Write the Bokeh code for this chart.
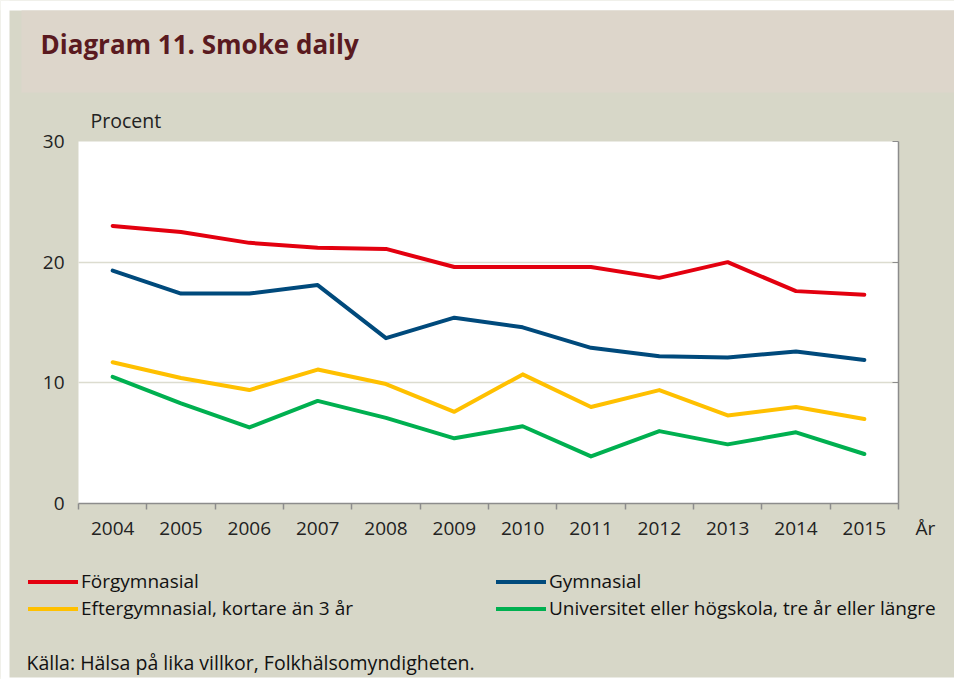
from bokeh.plotting import figure
from bokeh.models import Label, FixedTicker, LinearAxis, Range1d, BoxAnnotation, Legend, LegendItem
from bokeh.embed import file_html
from bokeh.resources import INLINE

years = [2004, 2005, 2006, 2007, 2008, 2009, 2010, 2011, 2012, 2013, 2014, 2015]
forgymnasial = [23.0, 22.5, 21.6, 21.2, 21.1, 19.6, 19.6, 19.6, 18.7, 20.0, 17.6, 17.3]
gymnasial = [19.3, 17.4, 17.4, 18.1, 13.7, 15.4, 14.6, 12.9, 12.2, 12.1, 12.6, 11.9]
eftergymnasial = [11.7, 10.4, 9.4, 11.1, 9.9, 7.6, 10.7, 8.0, 9.4, 7.3, 8.0, 7.0]
universitet = [10.5, 8.3, 6.3, 8.5, 7.1, 5.4, 6.4, 3.9, 6.0, 4.9, 5.9, 4.1]
series_names = ["Förgymnasial", "Gymnasial", "Eftergymnasial, kortare än 3 år",
                "Universitet eller högskola, tre år eller längre"]
series_values = [forgymnasial, gymnasial, eftergymnasial, universitet]
series_colors = ["#e3000f", "#004a7c", "#ffc000", "#00b050"]
y_ticks = [0, 10, 20, 30]
grid_ticks = [10, 20]
y_min, y_max = 0, 30
title_text = "Diagram 11. Smoke daily"
y_unit = "Procent"
x_unit = "År"
source_text = "Källa: Hälsa på lika villkor, Folkhälsomyndigheten."

# ---- layout (canvas pixels) ----
W, H = 954, 679
FL, FT, FR, FB = 78, 141, 898, 503   # plot-area box on the canvas
FONT = "Open Sans"
BG = "#d7d7c8"
TXT = "#222222"
GRID = "#dcdccf"

x_lo, x_hi = years[0] - 0.5, years[-1] + 0.5
kx = (FR - FL) / (x_hi - x_lo)
ky = (FB - FT) / (y_max - y_min)
xr = Range1d(x_lo - FL / kx, x_hi + (W - FR) / kx)
yr = Range1d(y_min - (H - FB) / ky, y_max + FT / ky)

p = figure(width=W, height=H, x_range=xr, y_range=yr,
           output_backend="svg", toolbar_location=None,
           min_border=0, min_border_left=0, min_border_right=0,
           min_border_top=0, min_border_bottom=0)
p.background_fill_color = BG
p.border_fill_color = BG
p.outline_line_color = None


def sx(cx):
    return cx


def sy(cy):
    return H - cy


def screen_box(l, t, r, b, color):
    return BoxAnnotation(left=sx(l), right=sx(r), top=sy(t), bottom=sy(b),
                         left_units="screen", right_units="screen",
                         top_units="screen", bottom_units="screen",
                         fill_color=color, fill_alpha=1, line_color=None, level="image")


# white plot area
p.add_layout(BoxAnnotation(left=x_lo, right=x_hi, bottom=y_min, top=y_max,
                           fill_color="white", fill_alpha=1, line_color=None, level="image"))
# white page margins and title band
p.add_layout(screen_box(0, 0, W, 10, "white"))
p.add_layout(screen_box(0, 0, 9, H, "white"))
p.add_layout(screen_box(0, 677, W, H, "white"))
p.add_layout(screen_box(21, 10, W, 92, "#ddd6cb"))

# y axis (left)
ya = p.yaxis[0]
ya.fixed_location = x_lo
ya.bounds = (y_min, y_max)
ya.ticker = FixedTicker(ticks=y_ticks)
ya.axis_line_color = None
ya.major_tick_line_color = None
ya.minor_tick_line_color = None
ya.major_tick_out = 0
ya.major_tick_in = 0
ya.major_label_standoff = 14
ya.major_label_text_font = FONT
ya.major_label_text_font_size = "19px"
ya.major_label_text_color = TXT

# x axis
xa = p.xaxis[0]
xa.fixed_location = y_min
xa.bounds = (x_lo, x_hi)
xa.ticker = FixedTicker(ticks=years, minor_ticks=[y - 0.5 for y in years] + [years[-1] + 0.5])
xa.major_label_overrides = {y: str(y) for y in years}
xa.major_tick_line_color = None
xa.major_tick_out = 0
xa.major_tick_in = 0
xa.minor_tick_line_color = "#8c8c8c"
xa.minor_tick_out = 6
xa.minor_tick_in = 0
xa.minor_tick_line_width = 1.5
xa.axis_line_color = "#8c8c8c"
xa.axis_line_width = 1.5
xa.major_label_standoff = 12
xa.major_label_text_font = FONT
xa.major_label_text_font_size = "19px"
xa.major_label_text_color = TXT

# right axis line with inward ticks
ra = LinearAxis(ticker=FixedTicker(ticks=y_ticks), fixed_location=x_hi, bounds=(y_min, y_max))
ra.major_label_overrides = {t: "" for t in y_ticks}
ra.axis_line_color = "#8c8c8c"
ra.axis_line_width = 1.5
ra.major_tick_line_color = "#8c8c8c"
ra.major_tick_in = 6
ra.major_tick_out = 0
ra.minor_tick_line_color = None
p.add_layout(ra, "right")

# horizontal gridlines limited to the plot area
p.xgrid.grid_line_color = None
try:
    p.ygrid.ticker = FixedTicker(ticks=grid_ticks)
    p.ygrid.cross_bounds = (x_lo, x_hi)
    p.ygrid.grid_line_color = GRID
    p.ygrid.grid_line_width = 1.5
except Exception:
    p.ygrid.grid_line_color = None
    p.segment(x0=[x_lo] * len(grid_ticks), x1=[x_hi] * len(grid_ticks), y0=grid_ticks, y1=grid_ticks,
              line_color=GRID, line_width=1.5, level="underlay")

renderers = []
for name, vals, col in zip(series_names, series_values, series_colors):
    r = p.line(years, vals, line_color=col, line_width=4, line_cap="round", line_join="round")
    renderers.append(r)

p.add_layout(Label(x=sx(40), y=sy(43), x_units="screen", y_units="screen", text=title_text,
                   text_font=FONT, text_font_size="26px", text_font_style="bold",
                   text_color="#5a1a20", text_baseline="middle", text_align="left"))
p.add_layout(Label(x=sx(90), y=sy(120), x_units="screen", y_units="screen", text=y_unit,
                   text_font=FONT, text_font_size="19.5px", text_color=TXT,
                   text_baseline="middle", text_align="left"))
p.add_layout(Label(x=sx(925), y=sy(527), x_units="screen", y_units="screen", text=x_unit,
                   text_font=FONT, text_font_size="19px", text_color=TXT,
                   text_baseline="middle", text_align="center"))
p.add_layout(Label(x=sx(26), y=sy(662), x_units="screen", y_units="screen", text=source_text,
                   text_font=FONT, text_font_size="19.5px", text_color="#111111",
                   text_baseline="middle", text_align="left"))

for idxs, cx in (((0, 2), 28), ((1, 3), 496)):
    items = [LegendItem(label=series_names[i], renderers=[renderers[i]]) for i in idxs]
    lg = Legend(items=items, location=(sx(cx), sy(621)), orientation="vertical",
                glyph_width=50, glyph_height=21, label_height=21, spacing=1,
                label_standoff=3, padding=0, margin=0,
                label_text_font=FONT, label_text_font_size="19px", label_text_color="#111111",
                background_fill_alpha=0, border_line_color=None)
    p.add_layout(lg, "center")

open("out.html", "w").write(file_html(p, INLINE))
